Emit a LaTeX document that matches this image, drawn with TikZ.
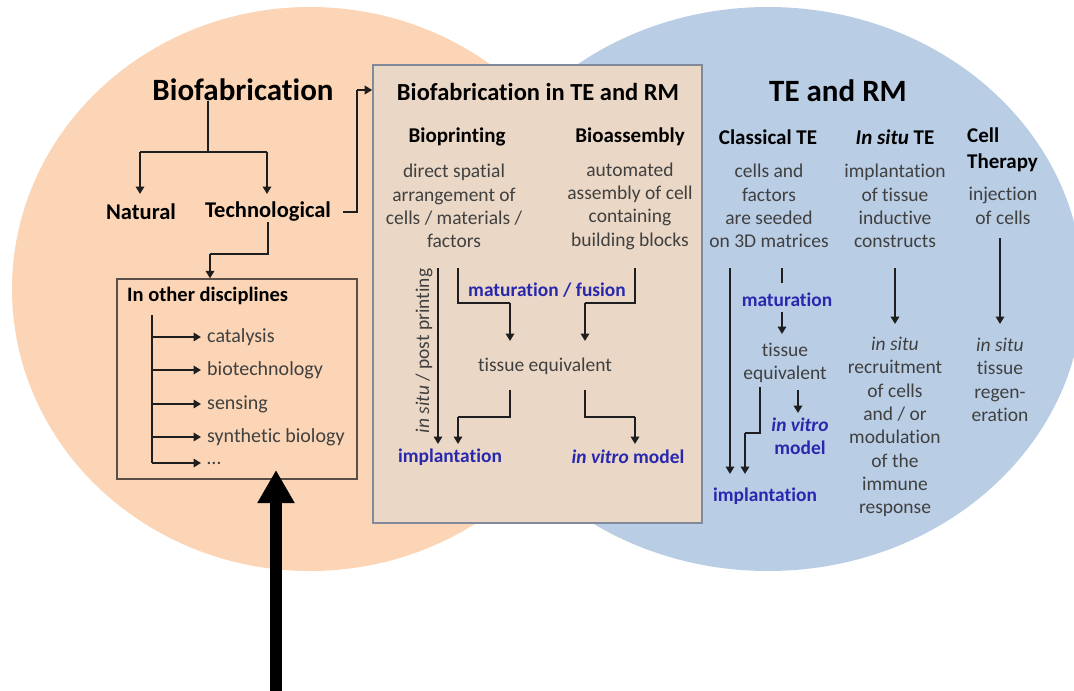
\documentclass[tikz,border=0pt]{standalone}
\usepackage{fontspec}
\setmainfont{Carlito}[Ligatures={NoCommon}]
\usetikzlibrary{arrows.meta}
\definecolor{orangefill}{RGB}{251,213,181}
\definecolor{bluefill}{RGB}{185,205,229}
\definecolor{boxfill}{RGB}{234,215,197}
\definecolor{boxline}{RGB}{128,138,155}
\definecolor{oboxline}{RGB}{90,78,70}
\definecolor{txtgray}{RGB}{64,64,64}
\definecolor{lblue}{RGB}{40,40,175}
\definecolor{arr}{RGB}{30,30,30}
\tikzset{
  bigtitle/.style={font=\bfseries\fontsize{31}{34}\selectfont, text=black, inner sep=0pt},
  midtitle/.style={font=\bfseries\fontsize{24.5}{28}\selectfont, text=black, inner sep=0pt},
  headtxt/.style={font=\bfseries\fontsize{21}{26}\selectfont, text=black, inner sep=0pt, align=left},
  bodytxt/.style={font=\fontsize{19.5}{23.3}\selectfont, text=txtgray, align=center, inner sep=0pt},
  bluetxt/.style={font=\bfseries\fontsize{19.4}{23}\selectfont, text=lblue, align=center, inner sep=0pt},
  listtxt/.style={font=\fontsize{20}{22}\selectfont, text=txtgray, inner sep=0pt, anchor=west},
  conn/.style={draw=arr, line width=1.8pt, -{Triangle[width=8.5pt,length=7.5pt]}},
  plainline/.style={draw=arr, line width=1.8pt},
}
\begin{document}
\begin{tikzpicture}[x=1pt,y=-1pt]
\useasboundingbox (0,0) rectangle (1074,691);
% circles
\fill[orangefill] (310,289) ellipse [x radius=298, y radius=282];
\fill[bluefill] (768,289) ellipse [x radius=315, y radius=282];

% ---------- left ----------
\node[bigtitle] (bio) at (243,90) {Biofabrication};
\node[headtxt, font=\bfseries\fontsize{22.5}{26}\selectfont] (nat) at (141,212) {Natural};
\node[headtxt, font=\bfseries\fontsize{22.5}{26}\selectfont] (tech) at (268,212) {Technological};
\coordinate (split) at (208,152);
\draw[plainline] (bio.south -| split) -- (split);
\coordinate (splitL) at (140,152);
\coordinate (splitR) at (267,152);
\draw[plainline] (splitL) -- (splitR);
\coordinate (natin) at (140,194);
\coordinate (techin) at (267,194);
\draw[conn] (splitL) -- (natin);
\draw[conn] (splitR) -- (techin);

\node[draw=oboxline, line width=1.3pt, minimum width=240pt, minimum height=200pt, inner sep=0pt] (obox) at (237,379) {};
\node[headtxt, font=\bfseries\fontsize{20.5}{22}\selectfont, anchor=west] (othert) at (127,296) {In other disciplines};
\coordinate (treetop) at (152,315);
\coordinate (treebot) at (152,463);
\draw[plainline] (treetop) -- (treebot);
\foreach \yy/\nm/\tx in {337/cat/catalysis,370/btech/biotechnology,404/sens/sensing,437/synb/synthetic biology,463/dots/\dots}{
  \node[listtxt] (\nm) at (207,\yy) {\tx};
  \draw[conn] (treetop |- \nm.west) -- ([xshift=-6pt]\nm.west);
}

\coordinate (tj1) at (268,254);
\coordinate (tj2) at (210,254);
\draw[plainline] (tech.south -| tj1) -- (tj1) -- (tj2);
\draw[conn] (tj2) -- (obox.north -| tj2);

% ---------- middle box ----------
\node[draw=boxline, fill=boxfill, line width=1.6pt, minimum width=329pt, minimum height=458pt, inner sep=0pt] (mbox) at (537.5,294) {};
\node[midtitle] (mtitle) at (538,92) {Biofabrication in TE and RM};
\coordinate (tdash) at (343,212);
\coordinate (tcorner) at (357,212);
\coordinate (tup) at (357,90);
\draw[plainline] (tdash) -- (tcorner) -- (tup);
\draw[conn] (tup) -- (mbox.west |- tup);

\node[headtxt] (bp) at (457,137) {Bioprinting};
\node[headtxt] (ba) at (630,137) {Bioassembly};
\node[bodytxt] (bpd) at (454,206) {direct spatial\\arrangement of\\cells / materials /\\factors};
\node[bodytxt] (bad) at (630,206) {automated\\assembly of cell\\containing\\building blocks};

\node[bodytxt, rotate=90] (insitu) at (424,351) {\textit{in situ} / post printing};
\node[bluetxt] (matfus) at (547,290) {maturation / fusion};
\node[bodytxt] (teq) at (545,366) {tissue equivalent};
\node[bluetxt] (impl1) at (450,457) {implantation};
\node[bluetxt] (ivm) at (628,457) {\textit{in vitro} model};

\coordinate (ls) at (438,268);
\draw[conn] (ls) -- (ls |- 0,444);
\coordinate (b1) at (458,268);
\coordinate (b2) at (458,303);
\coordinate (b3) at (510,303);
\draw[plainline] (b1) -- (b2) -- (b3);
\draw[conn] (b3) -- (b3 |- 0,341);
\coordinate (c1) at (635,268);
\coordinate (c2) at (635,303);
\coordinate (c3) at (585,303);
\draw[plainline] (c1) -- (c2) -- (c3);
\draw[conn] (c3) -- (c3 |- 0,341);
\coordinate (d1) at (510,390);
\coordinate (d2) at (510,417);
\coordinate (d3) at (458,417);
\draw[plainline] (d1) -- (d2) -- (d3);
\draw[conn] (d3) -- (d3 |- 0,444);
\coordinate (e1) at (585,390);
\coordinate (e2) at (585,417);
\coordinate (e3) at (635,417);
\draw[plainline] (e1) -- (e2) -- (e3);
\draw[conn] (e3) -- (e3 |- 0,444);

% ---------- right ----------
\node[bigtitle] (term) at (838,91) {TE and RM};
\node[headtxt] (ct) at (768,137) {Classical TE};
\node[headtxt] (ist) at (895,137) {\textit{In situ} TE};
\node[headtxt, anchor=west] (cth) at (967,150) {Cell\\Therapy};
\node[bodytxt] (ctd) at (769,206) {cells and\\factors\\are seeded\\on 3D matrices};
\node[bodytxt] (istd) at (895,206) {implantation\\of tissue\\inductive\\constructs};
\node[bodytxt] (cthd) at (1003,206) {injection\\of cells};

\node[bluetxt] (matur) at (787,300) {maturation};
\node[bodytxt] (tiss2) at (785,363) {tissue\\equivalent};
\node[bluetxt] (ivm2) at (800,436) {\textit{in vitro}\\model};
\node[bluetxt] (impl2) at (765,496) {implantation};
\node[bodytxt] (isr) at (895,427) {\textit{in situ}\\recruitment\\of cells\\and / or\\modulation\\of the\\immune\\response};
\node[bodytxt] (itr) at (1000,380) {\textit{in situ}\\tissue\\regen-\\eration};

\coordinate (f1) at (730,268);
\draw[conn] (f1) -- (f1 |- 0,474);
\coordinate (g1) at (782,268);
\coordinate (g2) at (782,283);
\draw[plainline] (g1) -- (g2);
\coordinate (g3) at (782,312);
\draw[conn] (g3) -- (g3 |- 0,334);
\coordinate (h1) at (798,390);
\draw[conn] (h1) -- (h1 |- 0,413);
\coordinate (k1) at (760,387);
\coordinate (k2) at (760,433);
\coordinate (k3) at (745,433);
\draw[plainline] (k1) -- (k2) -- (k3);
\draw[conn] (k3) -- (k3 |- 0,474);
\coordinate (m1) at (895,268);
\draw[conn] (m1) -- (m1 |- 0,324);
\coordinate (n1) at (1000,238);
\draw[conn] (n1) -- (n1 |- 0,324);

% big arrow
\coordinate (bigstart) at (276,691);
\coordinate (bigtip) at (276,470);
\draw[line width=12pt, black, -{Triangle[width=35pt,length=33pt]}] (bigstart) -- (bigtip);
\end{tikzpicture}
\end{document}
